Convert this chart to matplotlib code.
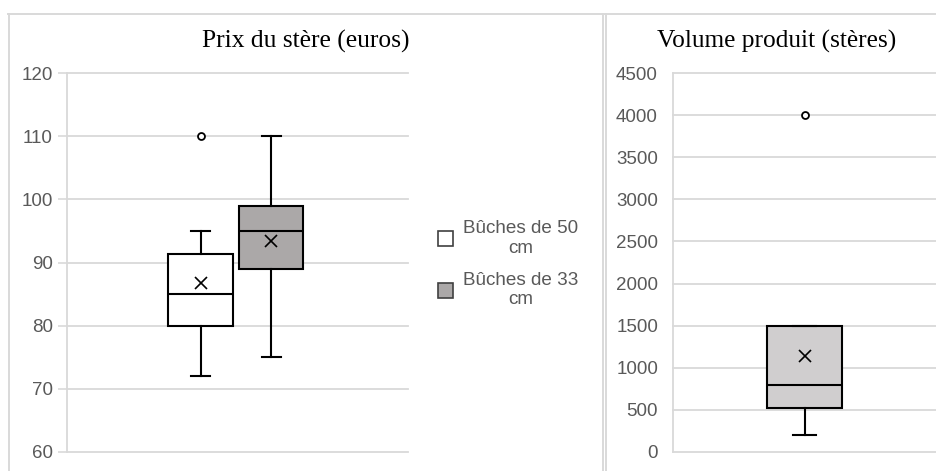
import matplotlib
matplotlib.use('Agg')
import matplotlib.pyplot as plt
from matplotlib.patches import Rectangle
from matplotlib.lines import Line2D

plt.rcParams['font.family'] = ['Liberation Sans', 'DejaVu Sans']

# ── données ────────────────────────────────────────────────────
series = ['Bûches de 50\ncm', 'Bûches de 33\ncm']
prix_q1 = [80, 89]
prix_med = [85, 95]
prix_q3 = [91.3, 99]
prix_wlo = [72, 75]
prix_whi = [95, 110]
prix_mean = [86.8, 93.4]
prix_out = [[110], []]
prix_ticks = [60, 70, 80, 90, 100, 110, 120]

vol_q1 = 520
vol_med = 790
vol_q3 = 1500
vol_wlo = 200
vol_whi = 1500
vol_mean = 1140
vol_out = [4000]
vol_ticks = [0, 500, 1000, 1500, 2000, 2500, 3000, 3500, 4000, 4500]

W, H = 936, 471
GRID = '#d9d9d9'
TXT = '#595959'
fills = ['#ffffff', '#aba8a8']
vol_fill = '#d0cecf'


def px(x0, y0, x1, y1):
    # pixel box (top-left origin) -> figure fraction rect
    return [x0 / W, 1 - y1 / H, (x1 - x0) / W, (y1 - y0) / H]


fig = plt.figure(figsize=(W / 100, H / 100), dpi=100, facecolor='white')

# cadres des deux zones de graphique
for xs, ys in [((8, 936), (14, 14)), ((9, 9), (14, 471)),
               ((603, 603), (14, 471)), ((606, 606), (14, 471))]:
    fig.add_artist(Line2D([x / W for x in xs], [1 - y / H for y in ys],
                          color=GRID, lw=1.4))

line_kw = dict(color='black', linewidth=1.5)
mean_kw = dict(marker='x', markersize=9, markeredgecolor='black', markeredgewidth=1.2)
flier_kw = dict(marker='o', markersize=5, markerfacecolor='white',
                markeredgecolor='black', markeredgewidth=1.3)


def style_axes(ax):
    ax.set_axisbelow(True)
    ax.yaxis.grid(True, color=GRID, linewidth=1.3)
    for g in ax.get_ygridlines():
        g.set_clip_on(False)
    for s in ['top', 'right', 'bottom']:
        ax.spines[s].set_visible(False)
    ax.spines['left'].set_color(GRID)
    ax.spines['left'].set_linewidth(1.3)
    ax.set_xticks([])
    ax.set_facecolor('none')


# ── gauche : prix du stère ─────────────────────────────────────
ax1 = fig.add_axes(px(67, 73, 408, 452))
stats = []
for i in range(len(series)):
    stats.append(dict(q1=prix_q1[i], med=prix_med[i], q3=prix_q3[i],
                      whislo=prix_wlo[i], whishi=prix_whi[i],
                      mean=prix_mean[i], fliers=prix_out[i]))
bp = ax1.bxp(stats, positions=[1, 2], widths=0.92, capwidths=0.27,
             showmeans=True, patch_artist=True,
             boxprops=dict(linewidth=1.5, edgecolor='black'),
             medianprops=line_kw, whiskerprops=line_kw, capprops=line_kw,
             meanprops=mean_kw, flierprops=flier_kw)
for patch, c in zip(bp['boxes'], fills):
    patch.set_facecolor(c)
ax1.set_xlim(-0.894, 3.943)
ax1.set_ylim(60, 120)
ax1.set_yticks(prix_ticks)
style_axes(ax1)
ax1.tick_params(axis='y', colors=GRID, labelcolor=TXT, length=6.5, width=1.2,
                pad=3.6, labelsize=13.5)

fig.text(306 / W, 1 - 48 / H, 'Prix du stère (euros)', ha='center', va='baseline',
         fontsize=18.4, family='Liberation Serif', color='black')

# légende
for i, (lab, c) in enumerate(zip(series, fills)):
    yc = 238.5 + i * 51.5
    fig.add_artist(Rectangle((438 / W, 1 - (yc + 7.5) / H), 15 / W, 15 / H,
                             transform=fig.transFigure, facecolor=c,
                             edgecolor='#404040', linewidth=1.2))
    fig.text(521 / W, 1 - yc / H, lab, ha='center', va='center',
             multialignment='center', linespacing=1.2, fontsize=13.6, color=TXT)

# ── droite : volume produit ────────────────────────────────────
ax2 = fig.add_axes(px(673, 73, 936, 452))
bp2 = ax2.bxp([dict(q1=vol_q1, med=vol_med, q3=vol_q3, whislo=vol_wlo,
                    whishi=vol_whi, mean=vol_mean, fliers=vol_out)],
              positions=[1], widths=0.5, capwidths=0.153,
              showmeans=True, patch_artist=True,
              boxprops=dict(linewidth=1.5, edgecolor='black', facecolor=vol_fill),
              medianprops=line_kw, whiskerprops=line_kw, capprops=line_kw,
              meanprops=mean_kw, flierprops=flier_kw)
ax2.set_xlim(0.123, 1.877)
ax2.set_ylim(0, 4500)
ax2.set_yticks(vol_ticks)
style_axes(ax2)
ax2.tick_params(axis='y', labelcolor=TXT, length=0, pad=10.8, labelsize=13.5)

fig.text(777 / W, 1 - 48 / H, 'Volume produit (stères)', ha='center', va='baseline',
         fontsize=18.3, family='Liberation Serif', color='black')

fig.savefig('out.png', dpi=100, facecolor='white')
